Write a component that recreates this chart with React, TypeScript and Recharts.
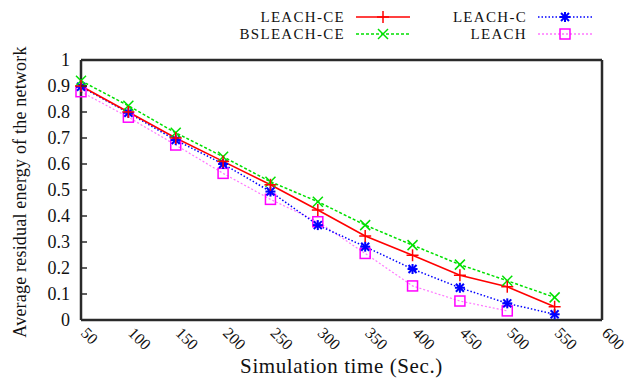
import React from 'react';
import { LineChart, Line, XAxis, YAxis, ReferenceLine } from 'recharts';

const times = [50, 100, 150, 200, 250, 300, 350, 400, 450, 500, 550];
const leachCE = [0.9, 0.8, 0.7, 0.61, 0.52, 0.423, 0.323, 0.249, 0.172, 0.128, 0.051];
const bsleachCE = [0.92, 0.824, 0.72, 0.628, 0.532, 0.455, 0.365, 0.288, 0.213, 0.151, 0.087];
const leachC = [0.897, 0.797, 0.692, 0.6, 0.494, 0.365, 0.282, 0.196, 0.124, 0.064, 0.022];
const leach: (number | null)[] = [0.878, 0.78, 0.673, 0.564, 0.464, 0.378, 0.256, 0.131, 0.073, 0.035, null];

const xTicks = [50, 100, 150, 200, 250, 300, 350, 400, 450, 500, 550, 600];
const yTicks = [0, 0.1, 0.2, 0.3, 0.4, 0.5, 0.6, 0.7, 0.8, 0.9, 1];
const yTickLabels = ['0', '0.1', '0.2', '0.3', '0.4', '0.5', '0.6', '0.7', '0.8', '0.9', '1'];

const data = times.map((t, i) => ({
  t,
  leachCE: leachCE[i],
  bsleachCE: bsleachCE[i],
  leachC: leachC[i],
  leach: leach[i],
}));

const FONT = 'Liberation Serif';
const BORDER = '#2a2a2a';

const RED = '#ff0000';
const GREEN = '#00e000';
const BLUE = '#0000ff';
const MAGENTA = '#ff00ff';

const PlusMark = ({ cx, cy, color }: any) => (
  <g stroke={color} strokeWidth={1.5}>
    <line x1={cx - 6} y1={cy} x2={cx + 6} y2={cy} />
    <line x1={cx} y1={cy - 6} x2={cx} y2={cy + 6} />
  </g>
);
const CrossMark = ({ cx, cy, color }: any) => (
  <g stroke={color} strokeWidth={1.5}>
    <line x1={cx - 5} y1={cy - 5} x2={cx + 5} y2={cy + 5} />
    <line x1={cx - 5} y1={cy + 5} x2={cx + 5} y2={cy - 5} />
  </g>
);
const StarMark = ({ cx, cy, color }: any) => (
  <g stroke={color} strokeWidth={2}>
    <line x1={cx - 5} y1={cy} x2={cx + 5} y2={cy} />
    <line x1={cx} y1={cy - 5} x2={cx} y2={cy + 5} />
    <line x1={cx - 4} y1={cy - 4} x2={cx + 4} y2={cy + 4} />
    <line x1={cx - 4} y1={cy + 4} x2={cx + 4} y2={cy - 4} />
  </g>
);
const SquareMark = ({ cx, cy, color }: any) => (
  <rect x={cx - 5} y={cy - 5} width={10} height={10} fill="none" stroke={color} strokeWidth={1.5} />
);

const makeDot = (Mark: any, color: string) => (props: any) => {
  const { cx, cy, index, value } = props;
  if (cx == null || cy == null || value == null) return <g key={`e${index}`} />;
  return <Mark key={`m${index}`} cx={cx} cy={cy} color={color} />;
};

const LeftTick = (props: any) => {
  const { x, y, payload, index } = props;
  return (
    <g>
      <line x1={x} y1={y} x2={x + 6} y2={y} stroke={BORDER} strokeWidth={1.5} />
      <text x={x - 11} y={y + 6} textAnchor="end" fontFamily={FONT} fontSize={18} fill="#111">
        {yTickLabels[index] ?? String(payload.value)}
      </text>
    </g>
  );
};

const RightTick = (props: any) => {
  const { x, y } = props;
  return <line x1={x - 6} y1={y} x2={x} y2={y} stroke={BORDER} strokeWidth={1.5} />;
};

const BottomTick = (props: any) => {
  const { x, y, payload } = props;
  const px = x - 1;
  const py = y + 14;
  return (
    <text x={px} y={py} transform={`rotate(45 ${px} ${py})`} textAnchor="start" fontFamily={FONT} fontSize={16} fill="#111">
      {payload.value}
    </text>
  );
};

const legendRows = [
  { label: 'LEACH-CE', color: RED, dash: undefined, Mark: PlusMark, tx: 345, ty: 17, lx: 356 },
  { label: 'BSLEACH-CE', color: GREEN, dash: '3 2', Mark: CrossMark, tx: 345, ty: 34, lx: 356 },
  { label: 'LEACH-C', color: BLUE, dash: '1.5 2', Mark: StarMark, tx: 527, ty: 17, lx: 538 },
  { label: 'LEACH', color: '#ff77ff', dash: '2 2', Mark: SquareMark, tx: 527, ty: 34, lx: 538, mc: MAGENTA },
];

export default function App() {
  return (
    <div style={{ position: 'absolute', left: 0, top: 0, width: 627, height: 378, background: '#fff' }}>
      <LineChart width={627} height={378} data={data} margin={{ top: 60, right: 24, bottom: 0, left: 0 }}>
        <XAxis
          dataKey="t"
          type="number"
          domain={[50, 600]}
          ticks={xTicks}
          interval={0}
          height={58}
          tickSize={0}
          tickMargin={0}
          tickLine={false}
          axisLine={{ stroke: BORDER, strokeWidth: 2.5 }}
          tick={<BottomTick />}
          label={(p: any) => {
            const vb = p.viewBox;
            return (
              <text x={vb.x + vb.width / 2} y={373} textAnchor="middle" fontFamily={FONT} fontSize={21} letterSpacing={0.6} fill="#111">
                Simulation time (Sec.)
              </text>
            );
          }}
        />
        <YAxis
          type="number"
          domain={[0, 1]}
          ticks={yTicks}
          interval={0}
          width={81}
          tickSize={0}
          tickMargin={0}
          tickLine={false}
          axisLine={{ stroke: BORDER, strokeWidth: 2.5 }}
          tick={<LeftTick />}
          label={(p: any) => {
            const vb = p.viewBox;
            const cy = vb.y + vb.height / 2 + 2;
            return (
              <text x={26} y={cy} transform={`rotate(-90 26 ${cy})`} textAnchor="middle" fontFamily={FONT} fontSize={18} letterSpacing={0.2} fill="#111">
                Average residual energy of the network
              </text>
            );
          }}
        />
        <YAxis
          yAxisId="right"
          orientation="right"
          type="number"
          domain={[0, 1]}
          ticks={yTicks}
          interval={0}
          width={1}
          tickSize={0}
          tickMargin={0}
          tickLine={false}
          axisLine={{ stroke: BORDER, strokeWidth: 2.5 }}
          tick={<RightTick />}
        />
        <ReferenceLine y={1} stroke={BORDER} strokeWidth={2.5} />
        <Line
          dataKey="leach"
          stroke="#ff77ff"
          strokeWidth={1.2}
          strokeDasharray="2 2"
          dot={makeDot(SquareMark, MAGENTA)}
          isAnimationActive={false}
          connectNulls={false}
        />
        <Line
          dataKey="leachC"
          stroke={BLUE}
          strokeWidth={1.5}
          strokeDasharray="1.5 2"
          dot={makeDot(StarMark, BLUE)}
          isAnimationActive={false}
        />
        <Line
          dataKey="bsleachCE"
          stroke={GREEN}
          strokeWidth={1.5}
          strokeDasharray="3 2"
          dot={makeDot(CrossMark, GREEN)}
          isAnimationActive={false}
        />
        <Line
          dataKey="leachCE"
          stroke={RED}
          strokeWidth={1.6}
          dot={makeDot(PlusMark, RED)}
          isAnimationActive={false}
        />
      </LineChart>
      <svg width={627} height={50} style={{ position: 'absolute', left: 0, top: 0 }}>
        {legendRows.map((r) => (
          <g key={r.label}>
            <text x={r.tx} y={r.ty + 5} textAnchor="end" fontFamily={FONT} fontSize={15} letterSpacing={1.3} fill="#111">
              {r.label}
            </text>
            <line x1={r.lx} y1={r.ty} x2={r.lx + 54} y2={r.ty} stroke={r.color} strokeWidth={1.5} strokeDasharray={r.dash} />
            <r.Mark cx={r.lx + 27} cy={r.ty} color={r.mc ?? r.color} />
          </g>
        ))}
      </svg>
    </div>
  );
}
